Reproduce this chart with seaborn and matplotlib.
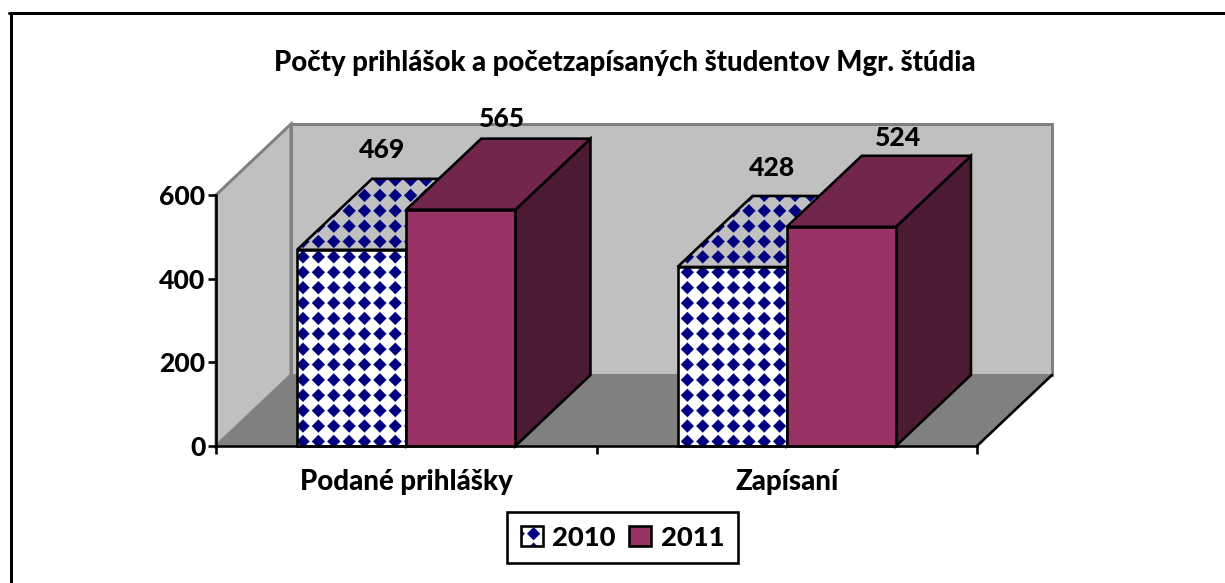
import matplotlib
matplotlib.use("Agg")
import matplotlib.hatch as mhatch
import matplotlib.pyplot as plt
import numpy as np
import pandas as pd
import seaborn as sns
from matplotlib.lines import Line2D
from matplotlib.legend_handler import HandlerTuple
from matplotlib.patches import Patch, Polygon, Rectangle
from matplotlib.path import Path

title = "Počty prihlášok a početzapísaných študentov Mgr. štúdia"
categories = ["Podané prihlášky", "Zapísaní"]
years = ["2010", "2011"]
values_2010 = [469, 428]
values_2011 = [565, 524]
y_ticks = [0, 200, 400, 600]

W, H, DPI = 1225, 583, 123
PT = 72 / DPI  # one pixel in points

# 3d look, depth of the box in data units
DX = 75 / 380.5
DY = 71 / (251 / 600)

WALL = "#C0C0C0"
FLOOR = "#808080"
NAVY = "#000080"
FRONT = "#993366"
TOP = "#73264D"
SIDE = "#4D1A33"
WEIGHT = 900


# excel style diamonds, takes the place of the star hatch
class DiamondHatch(mhatch.HatchPatternBase):
    filled = True
    rows = 8
    half = 0.053
    phase = (0.708, 0.29)

    def __init__(self, hatch, density):
        self.on = "*" in hatch
        self.num_vertices = 5 * (self.rows + 2) ** 2 if self.on else 0

    def set_vertices_and_codes(self, vertices, codes):
        n = 0
        for i in range(-1, self.rows + 1):
            for j in range(-1, self.rows + 1):
                cx = (i + self.phase[0]) / self.rows
                cy = (j + self.phase[1]) / self.rows
                h = self.half
                vertices[n:n + 5] = [(cx - h, cy), (cx, cy + h), (cx + h, cy), (cx, cy - h), (cx - h, cy)]
                codes[n:n + 5] = [Path.MOVETO, Path.LINETO, Path.LINETO, Path.LINETO, Path.CLOSEPOLY]
                n += 5


mhatch._hatch_types[mhatch._hatch_types.index(mhatch.Stars)] = DiamondHatch

sns.set_theme(style="white")
plt.rcParams["font.family"] = ["Lato", "DejaVu Sans"]
plt.rcParams["font.weight"] = WEIGHT
plt.rcParams["hatch.linewidth"] = 0.1

df = pd.DataFrame({
    "kategoria": categories * 2,
    "rok": [years[0]] * 2 + [years[1]] * 2,
    "pocet": values_2010 + values_2011,
})

fig = plt.figure(figsize=(W / DPI, H / DPI), dpi=DPI, facecolor="white")
ax = fig.add_axes([216 / W, (H - 446) / H, 761 / W, 251 / H])
ax.patch.set_visible(False)

sns.barplot(data=df, x="kategoria", y="pocet", hue="rok", hue_order=years, order=categories,
            palette=["white", FRONT], saturation=1, width=0.574, gap=0, legend=False, ax=ax)
ax.set_xlim(-0.5, 1.5)
ax.set_ylim(0, 600)
x0, x1 = ax.get_xlim()
lw = 2.6 * PT


def poly(pts, z, **kw):
    kw.setdefault("edgecolor", "black")
    kw.setdefault("linewidth", lw)
    ax.add_patch(Polygon(pts, closed=True, clip_on=False, zorder=z, joinstyle="miter", **kw))


# walls and floor
wall_kw = dict(facecolor=WALL, edgecolor=FLOOR, linewidth=3 * PT)
poly([(x0, 0), (x0, 600), (x0 + DX, 600 + DY), (x0 + DX, DY)], 0.3, **wall_kw)
poly([(x0 + DX, DY), (x0 + DX, 600 + DY), (x1 + DX, 600 + DY), (x1 + DX, DY)], 0.3, **wall_kw)
poly([(x0, 0), (x1, 0), (x1 + DX, DY), (x0 + DX, DY)], 0.4, facecolor=FLOOR, edgecolor="none")
ax.plot([x1, x1 + DX], [0, DY], color="black", lw=lw, clip_on=False, zorder=0.5)

# label offsets in pixels, excel does not put them over the bar centre
label_offsets = [[(30, 100), (40, 99)], [(41, 91), (57, 89)]]

for s, cont in enumerate(ax.containers):
    z = 1 + s
    for b, bar in enumerate(cont.patches):
        x, w, h = bar.get_x(), bar.get_width(), bar.get_height()
        r = x + w
        poly([(r, 0), (r + DX, DY), (r + DX, h + DY), (r, h)], z, facecolor=SIDE)
        if s == 0:
            poly([(x, h), (x + DX, h + DY), (r + DX, h + DY), (r, h)], z + 0.1,
                 facecolor=WALL, edgecolor=NAVY, linewidth=0, hatch="*")
            poly([(x, h), (x + DX, h + DY), (r + DX, h + DY), (r, h)], z + 0.2, fill=False)
            bar.set_edgecolor(NAVY)
            bar.set_linewidth(0)
            bar.set_hatch("*")
        else:
            poly([(x, h), (x + DX, h + DY), (r + DX, h + DY), (r, h)], z + 0.1, facecolor=TOP)
            bar.set_linewidth(0)
        bar.set_zorder(z + 0.3)
        ax.add_patch(Rectangle((x, 0), w, h, fill=False, edgecolor="black", linewidth=lw,
                               clip_on=False, zorder=z + 0.4))
        ax.annotate(f"{h:.0f}", (x + w / 2, h), xytext=label_offsets[s][b], textcoords="offset pixels",
                    ha="center", va="center", fontsize=15.5, fontweight=WEIGHT, color="black", zorder=5)

# axes
sns.despine(ax=ax)
for side in ["left", "bottom"]:
    ax.spines[side].set_color("black")
    ax.spines[side].set_linewidth(lw)
    ax.spines[side].set_zorder(4)
ax.set_xlabel("")
ax.set_ylabel("")
ax.set_yticks(y_ticks)
ax.tick_params(axis="y", length=8 * PT, width=lw, color="black", labelsize=15.5, labelcolor="black",
               pad=1.5, left=True)
ax.set_xticks([x0, (x0 + x1) / 2, x1])
ax.set_xticklabels([])
ax.set_xticks(range(len(categories)), categories, minor=True)
ax.tick_params(axis="x", which="major", length=8 * PT, width=lw, color="black", bottom=True)
ax.tick_params(axis="x", which="minor", length=0, labelsize=16.2, labelcolor="black", pad=13.5)

fig.text(624.5 / W, 1 - 63 / H, title, ha="center", va="center", fontsize=16.1, fontweight=WEIGHT, color="black")

# chart border, only left and top reach into the picture
fig.add_artist(Line2D([10.5 / W, 10.5 / W], [0, 1 - 13 / H], color="black", lw=3 * PT))
fig.add_artist(Line2D([9 / W, 1], [1 - 13 / H, 1 - 13 / H], color="black", lw=3 * PT))

handles = [
    (Patch(facecolor="white", edgecolor=NAVY, linewidth=0, hatch="*"),
     Patch(fill=False, edgecolor="black", linewidth=lw)),
    (Patch(facecolor=FRONT, edgecolor="black", linewidth=lw),),
]
leg = fig.legend(handles, years, handler_map={tuple: HandlerTuple(ndivide=1, pad=0)},
                 loc="center", bbox_to_anchor=(622.5 / W, 1 - 537.5 / H), ncol=2, fontsize=16,
                 frameon=True, fancybox=False, framealpha=1, edgecolor="black",
                 handlelength=0.8, handleheight=0.8, handletextpad=0.35, columnspacing=0.5,
                 borderpad=0.5, borderaxespad=0, labelcolor="black")
leg.get_frame().set_linewidth(lw)

fig.savefig("out.png", dpi=DPI)
